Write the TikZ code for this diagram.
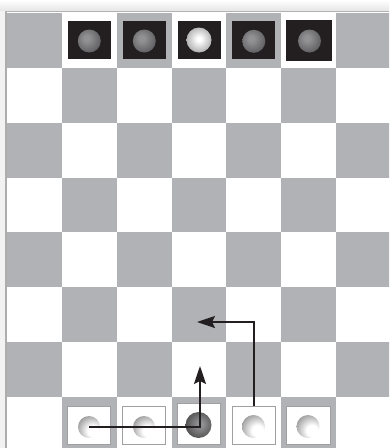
\documentclass[tikz,border=0pt]{standalone}
\usetikzlibrary{arrows.meta}
\definecolor{boardgray}{RGB}{177,178,182}
\definecolor{piececol}{RGB}{35,31,32}
\definecolor{sqborder}{RGB}{160,160,163}
\definecolor{dkhi}{RGB}{145,145,147}
\definecolor{dklo}{RGB}{75,75,77}
\definecolor{brlo}{RGB}{115,115,117}
\definecolor{wlo}{RGB}{95,95,98}
\pgfdeclareradialshading{topdark}{\pgfpoint{-6bp}{6bp}}{color(0bp)=(dkhi); color(6bp)=(dkhi); color(40bp)=(dklo); color(100bp)=(dklo)}
\pgfdeclareradialshading{topbright}{\pgfpoint{0bp}{2bp}}{color(0bp)=(white); color(4bp)=(white); color(44bp)=(brlo); color(100bp)=(brlo)}
\pgfdeclareradialshading{botwhite}{\pgfpoint{10bp}{-10bp}}{color(0bp)=(white); color(12bp)=(white); color(50bp)=(wlo); color(100bp)=(wlo)}
\pgfdeclareradialshading{botdark}{\pgfpoint{3bp}{2bp}}{color(0bp)=(dkhi); color(5bp)=(dkhi); color(48bp)=(black!90); color(100bp)=(black!90)}
\tikzset{
  blacksq/.style={fill=piececol, draw=none, minimum width=43pt, minimum height=38pt, inner sep=0pt},
  whitesq/.style={fill=white, draw=sqborder, line width=0.9pt, minimum width=43pt, minimum height=38pt, inner sep=0pt},
  ball/.style={circle, draw=none, inner sep=0pt, minimum size=#1},
  movearrow/.style={draw=piececol, line width=2pt, -{Stealth[length=18pt, width=12pt, inset=3pt]}}
}
\begin{document}
\begin{tikzpicture}[x=1pt,y=-1pt]
\useasboundingbox (0,0) rectangle (389,448);
\fill[white] (0,0) rectangle (389,448);
\shade[top color=white, bottom color=black!10] (0,0) rectangle (389,11);
\fill[black!5] (0,11) rectangle (5,448);
\draw[black!32, line width=1.5pt] (6,11) -- (6,448);
\draw[black!30, line width=1.2pt] (5,11.4) -- (389,11.4);
\begin{scope}
  \clip (7,13) rectangle (389,448);
  \foreach \r in {0,...,7} {
    \foreach \c in {0,...,6} {
      \pgfmathtruncatemacro\p{mod(\r+\c,2)}
      \ifnum\p=0
        \fill[boardgray] ({7+54.86*\c},{13+54.86*\r}) rectangle ++(54.86,54.86);
      \fi
    }
  }
\end{scope}
% top pieces
\node[blacksq] (k1) at (89.3,40) {};
\node[blacksq] (k2) at (144.4,40) {};
\node[blacksq] (k3) at (199.3,40) {};
\node[blacksq] (k4) at (253.9,40) {};
\node[blacksq, minimum width=46pt, minimum height=41pt] (k5) at (309,40.5) {};
\node[ball=23pt, shading=topdark] (a1) at (89.3,41) {};
\node[ball=23pt, shading=topdark] (a2) at (144.3,41) {};
\node[ball=25pt, shading=topbright] (a3) at (199,40) {};
\node[ball=23pt, shading=topdark] (a4) at (253.8,41.3) {};
\node[ball=23pt, shading=topdark] (a5) at (309.5,41) {};
% bottom pieces
\node[whitesq] (s1) at (89.3,425.5) {};
\node[whitesq] (s2) at (144.3,425.5) {};
\node[whitesq, minimum height=41pt] (s3) at (198.8,424) {};
\node[whitesq] (s4) at (253.9,425) {};
\node[whitesq, minimum width=44pt] (s5) at (308.3,425) {};
\node[ball=22pt, shading=botwhite] (b1) at (89,427) {};
\node[ball=22pt, shading=botwhite] (b2) at (144,427) {};
\node[ball=26pt, shading=botdark] (b3) at (198.5,425) {};
\node[ball=23pt, shading=botwhite] (b4) at (253.5,426.5) {};
\node[ball=23pt, shading=botwhite] (b5) at (308,426.5) {};
% arrows
\coordinate (t1) at (200,366);
\coordinate (t2) at (197,322);
\draw[movearrow] (b1.center) -| (t1);
\draw[movearrow] (s4.north) |- (t2);
\end{tikzpicture}
\end{document}
